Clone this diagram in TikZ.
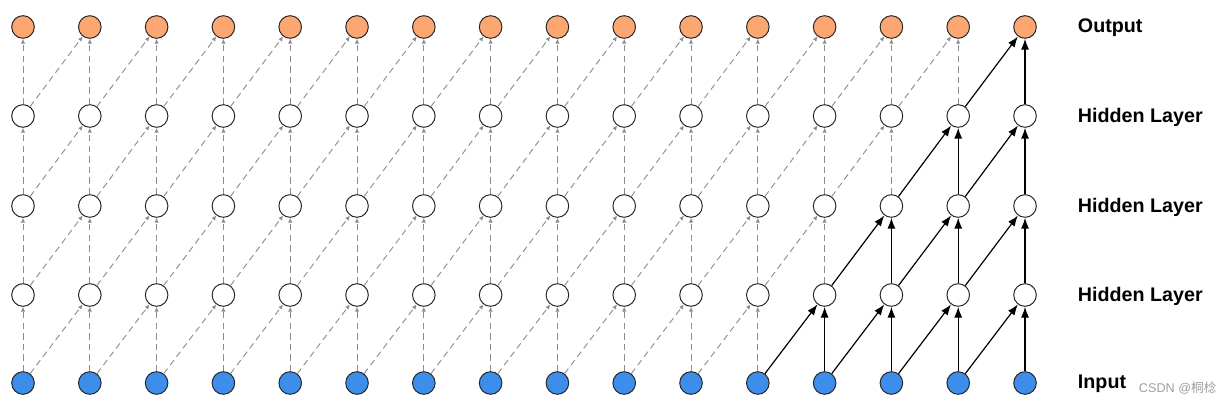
\documentclass[tikz,border=0pt]{standalone}
\usepackage{fontspec}
\setmainfont{Liberation Sans}
\newfontfamily\cjk{Noto Sans CJK SC}
\usepackage{tikz}
\usetikzlibrary{arrows.meta}

\definecolor{outorange}{HTML}{FCA772}
\definecolor{inblue}{HTML}{3C8EEA}

\tikzset{
  unit/.style={circle, draw=black!85, line width=0.7pt, minimum size=0.565cm, inner sep=0pt, fill=white},
  ghost/.style={draw=gray!90, dash pattern=on 4.5pt off 3pt, line width=0.65pt, -{Latex[length=1.2mm,width=1.1mm]}},
  live/.style={draw=black, line width=0.85pt, -{Latex[length=2.7mm,width=2mm]}},
  layername/.style={anchor=west, font=\bfseries\fontsize{14}{16}\selectfont},
}

\begin{document}
\begin{tikzpicture}[x=0.025cm, y=-0.025cm]
      \useasboundingbox (0,0) rectangle (1220,405);
      % units, one column per time step
      \foreach \c in {0,...,15} {
        \node[unit, fill=inblue] (n-\c-0) at ({23+66.8*\c},383) {};
        \foreach \l/\y in {1/295,2/206,3/116}
          \node[unit] (n-\c-\l) at ({23+66.8*\c},\y) {};
        \node[unit, fill=outorange] (n-\c-4) at ({23+66.8*\c},27) {};
      }
      % connections, solid inside the receptive field of the last output
      \foreach \l in {1,...,4} {
        \pgfmathtruncatemacro{\p}{\l-1}
        \pgfmathtruncatemacro{\first}{11+\l}
        \foreach \c in {0,...,15} {
          \ifnum\c<\first
            \draw[ghost] (n-\c-\p) -- (n-\c-\l);
          \else
            \draw[live] (n-\c-\p) -- (n-\c-\l);
          \fi
        }
        \foreach \c in {1,...,15} {
          \pgfmathtruncatemacro{\b}{\c-1}
          \ifnum\c<\first
            \draw[ghost] (n-\b-\p) -- (n-\c-\l);
          \else
            \draw[live] (n-\b-\p) -- (n-\c-\l);
          \fi
        }
      }
      % layer names
      \node[layername] (lbl-out) at (1073,28) {Output};
      \node[layername] (lbl-h3) at (1073,117) {Hidden Layer};
      \node[layername] (lbl-h2) at (1073,207) {Hidden Layer};
      \node[layername] (lbl-h1) at (1073,296) {Hidden Layer};
      \node[layername] (lbl-in) at (1073,384) {Input};
      \node[anchor=west, text=gray!75, font=\fontsize{9}{10}\selectfont] (mark) at (1134,388) {CSDN @{\cjk 桐棯}};
\end{tikzpicture}
\end{document}
